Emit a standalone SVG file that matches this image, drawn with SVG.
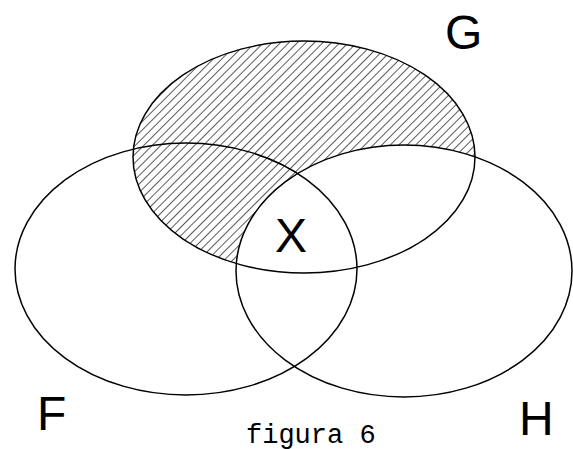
<svg xmlns="http://www.w3.org/2000/svg" width="573" height="449" viewBox="0 0 573 449">
<style>
.set{fill:none;stroke:#000;stroke-width:1.5}
.lbl{font-family:"Liberation Sans",Arial,sans-serif;font-size:48px;fill:#000}
.cap{font-family:"Liberation Mono","Courier New",monospace;font-size:27px;fill:#000}
</style>
<defs>
<pattern id="hatch" patternUnits="userSpaceOnUse" width="6" height="6" patternTransform="rotate(45)">
<line x1="0" y1="0" x2="0" y2="6" stroke="#000" stroke-width="1.3"/>
</pattern>
<mask id="gNotH">
<rect x="0" y="0" width="573" height="449" fill="#000"/>
<ellipse cx="304" cy="157" rx="171" ry="116" fill="#fff"/>
<ellipse cx="404" cy="271" rx="168" ry="126" fill="#000"/>
</mask>
</defs>
<rect width="573" height="449" fill="#fff"/>
<g id="hatching">
<rect x="0" y="0" width="573" height="449" fill="url(#hatch)" mask="url(#gNotH)"/>
</g>
<g id="G"><ellipse class="set" cx="304" cy="157" rx="171" ry="116"/><text class="lbl" x="445" y="49">G</text></g>
<g id="F"><ellipse class="set" cx="186" cy="269" rx="171" ry="126"/><text class="lbl" x="37" y="430">F</text></g>
<g id="H"><ellipse class="set" cx="404" cy="271" rx="168" ry="126"/><text class="lbl" x="519" y="435">H</text></g>
<g id="X"><text class="lbl" x="275" y="252">X</text></g>
<g id="caption"><text class="cap" x="246" y="443">figura 6</text></g>
</svg>
